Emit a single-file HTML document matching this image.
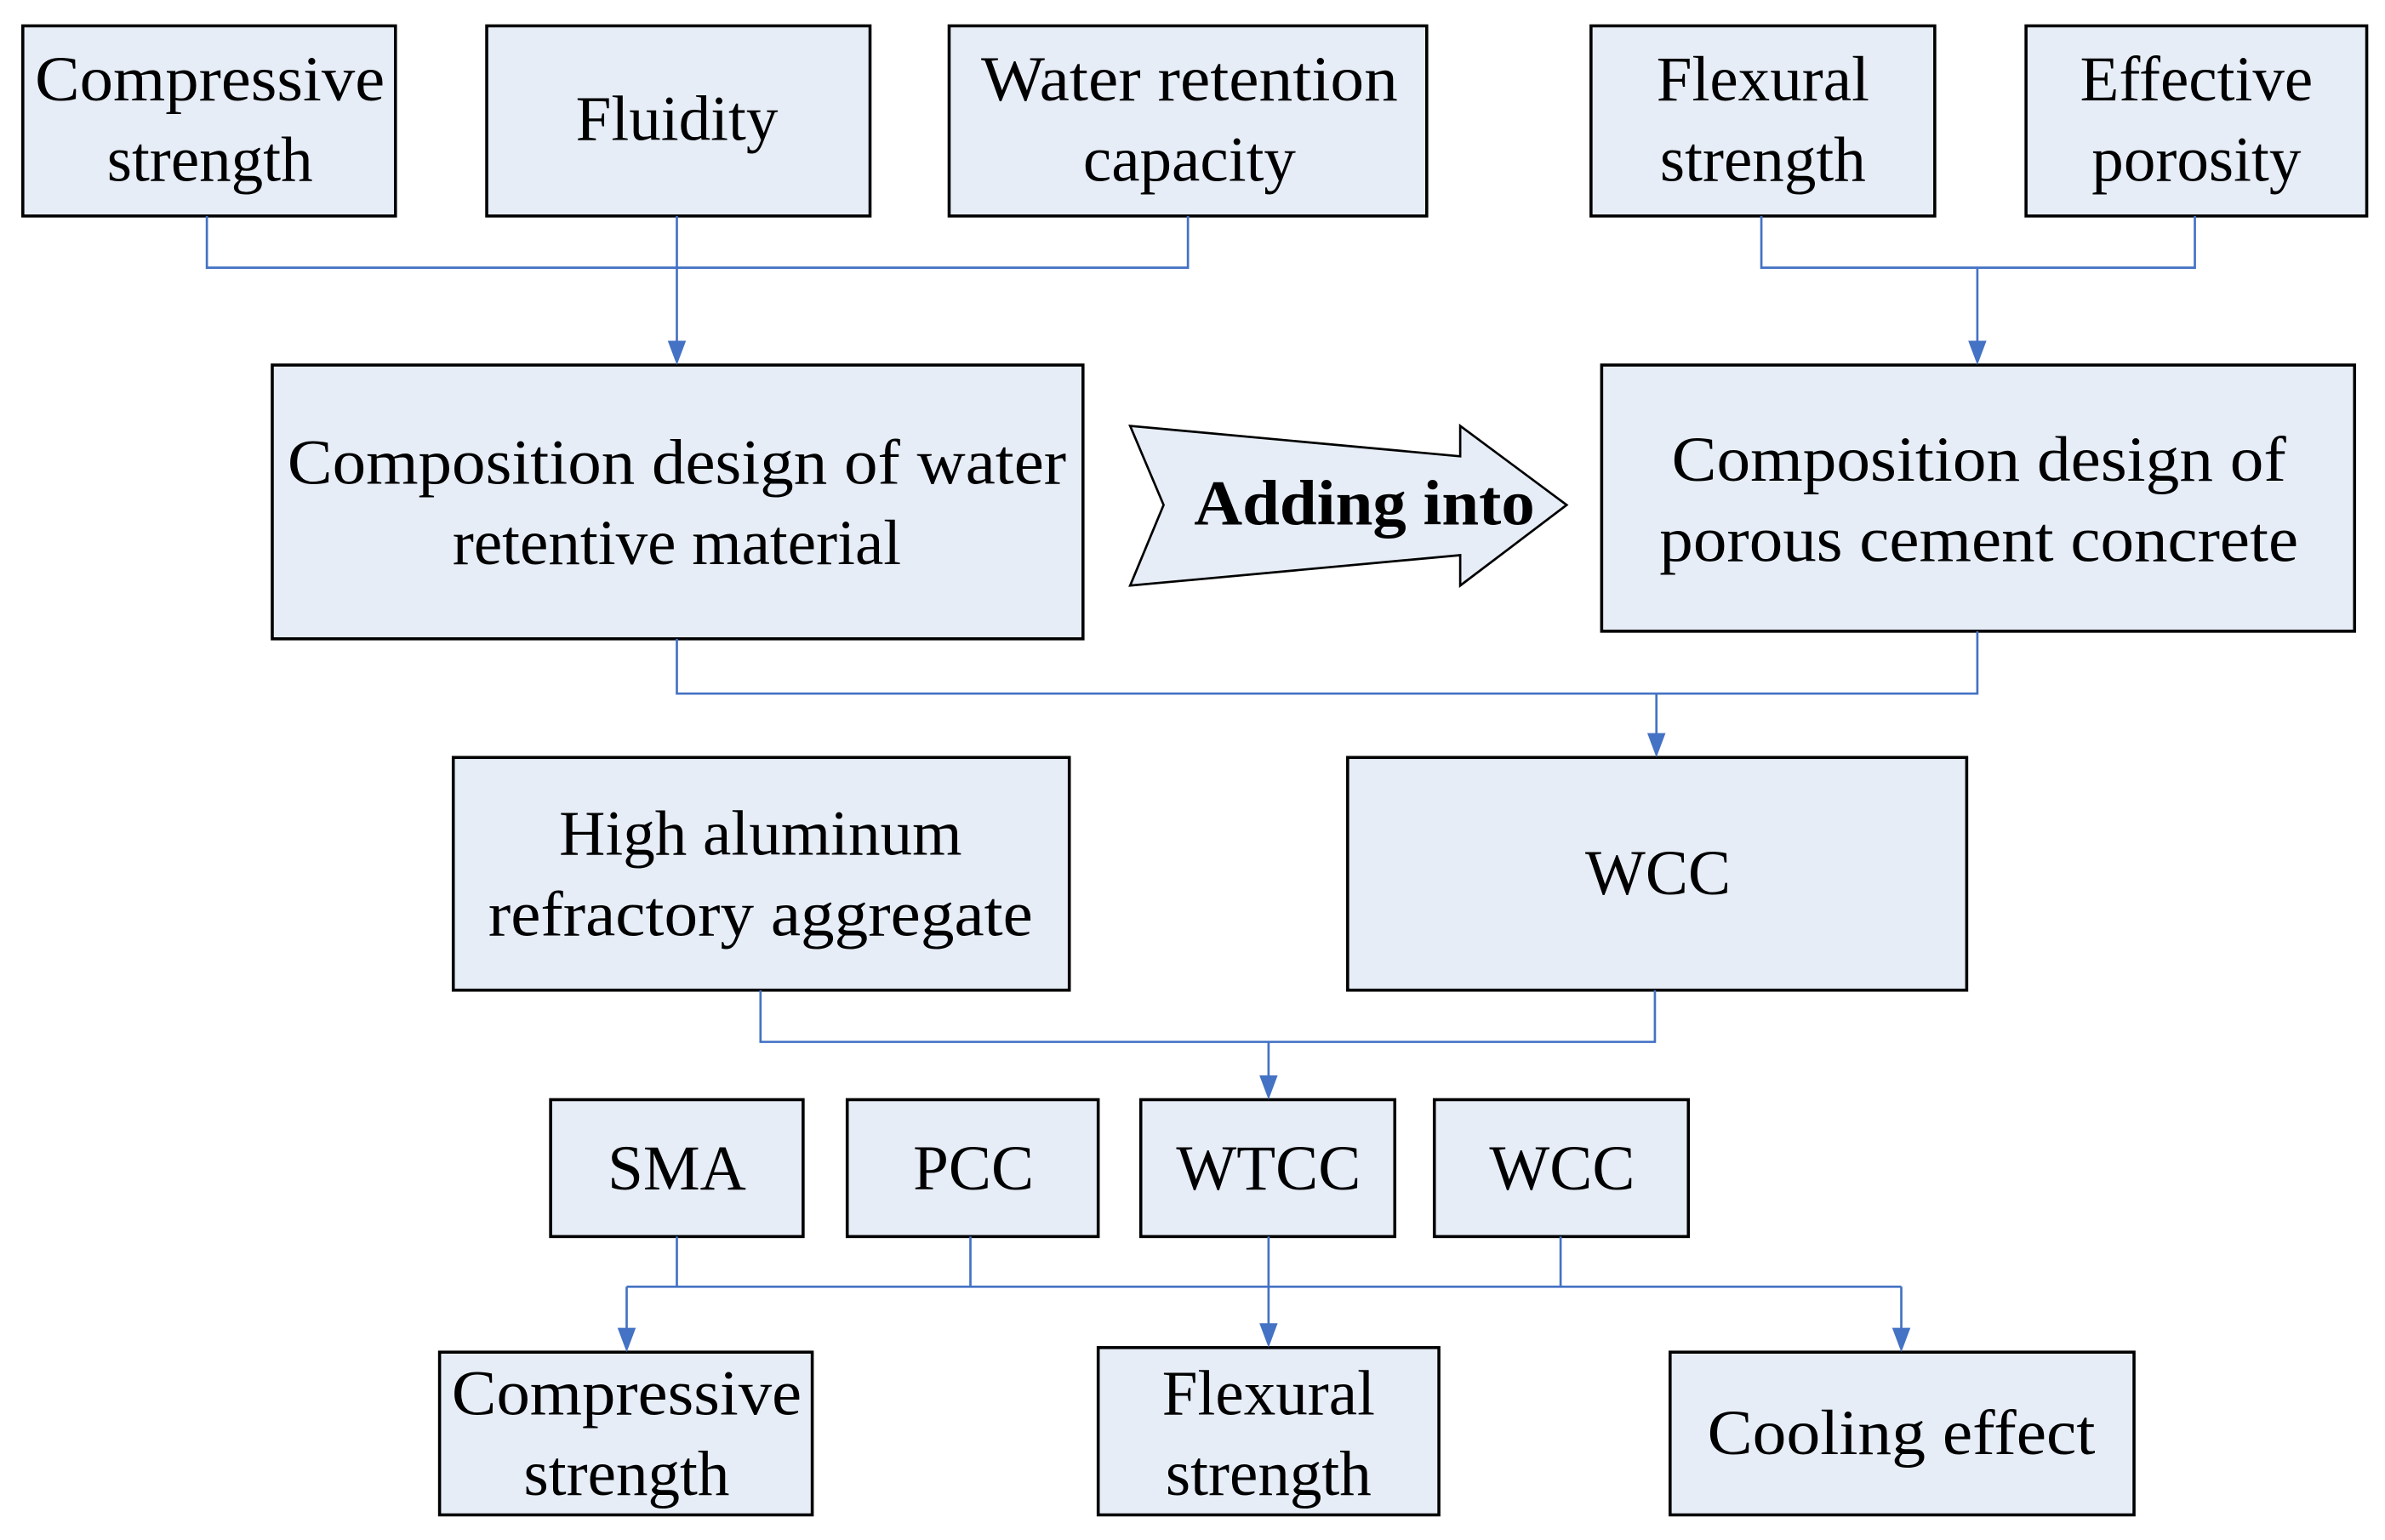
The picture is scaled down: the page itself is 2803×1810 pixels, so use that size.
<!DOCTYPE html>
<html><head><meta charset="utf-8"><style>html,body{margin:0;padding:0;background:#fff}svg{display:block}</style></head>
<body>
<svg width="2803" height="1810" viewBox="0 0 1568 1012.5" xmlns="http://www.w3.org/2000/svg" font-family="Liberation Serif, serif" font-size="42">
<g fill="#E6EDF7" stroke="#000" stroke-width="2">
<rect x="15" y="17" width="245" height="125"/>
<rect x="320" y="17" width="252" height="125"/>
<rect x="624" y="17" width="314" height="125"/>
<rect x="1046" y="17" width="226" height="125"/>
<rect x="1332" y="17" width="224" height="125"/>
<rect x="179" y="240" width="533" height="180"/>
<rect x="1053" y="240" width="495" height="175"/>
<rect x="298" y="498" width="405" height="153"/>
<rect x="886" y="498" width="407" height="153"/>
<rect x="362" y="723" width="166" height="90"/>
<rect x="557" y="723" width="165" height="90"/>
<rect x="750" y="723" width="167" height="90"/>
<rect x="943" y="723" width="167" height="90"/>
<rect x="289" y="889" width="245" height="107"/>
<rect x="722" y="886" width="224" height="110"/>
<rect x="1098" y="889" width="305" height="107"/>
<polygon points="743,280 960,300 960,280 1030,332 960,385 960,365 743,385 765,332" stroke-width="1.5"/>
</g>
<g fill="none" stroke="#4472C4" stroke-width="1.5">
<path d="M136,142V176H781V142M445,142V176"/>
<path d="M445,176V226"/>
<path d="M1158,142V176H1443V142"/>
<path d="M1300,176V226"/>
<path d="M445,420V456H1300V415"/>
<path d="M1089,456V484"/>
<path d="M500,651V685H1088V651"/>
<path d="M834,685V709"/>
<path d="M445,813V846M638,813V846M1026,813V846M412,846H1250"/>
<path d="M412,846V875"/>
<path d="M834,813V872"/>
<path d="M1250,846V875"/>
</g>
<g fill="#4472C4">
<polygon points="439,224 451,224 445,240"/>
<polygon points="1294,224 1306,224 1300,240"/>
<polygon points="1083,482 1095,482 1089,498"/>
<polygon points="828,707 840,707 834,723"/>
<polygon points="406,873 418,873 412,889"/>
<polygon points="828,870 840,870 834,886"/>
<polygon points="1244,873 1256,873 1250,889"/>
</g>
<g fill="#000" text-anchor="middle">
<text x="138" y="66" textLength="230" lengthAdjust="spacingAndGlyphs">Compressive</text>
<text x="138" y="119">strength</text>
<text x="445" y="92">Fluidity</text>
<text x="782" y="66" textLength="274" lengthAdjust="spacingAndGlyphs">Water retention</text>
<text x="782" y="119">capacity</text>
<text x="1159" y="66">Flexural</text>
<text x="1159" y="119">strength</text>
<text x="1444" y="66">Effective</text>
<text x="1444" y="119">porosity</text>
<text x="445" y="318" textLength="512" lengthAdjust="spacingAndGlyphs">Composition design of water</text>
<text x="445" y="371">retentive material</text>
<text x="1301" y="316" textLength="404" lengthAdjust="spacingAndGlyphs">Composition design of</text>
<text x="1301" y="369" textLength="420" lengthAdjust="spacingAndGlyphs">porous cement concrete</text>
<text x="897" y="345" font-weight="bold" textLength="224" lengthAdjust="spacingAndGlyphs">Adding into</text>
<text x="500" y="562">High aluminum</text>
<text x="500" y="615" textLength="358" lengthAdjust="spacingAndGlyphs">refractory aggregate</text>
<text x="1090" y="588">WCC</text>
<text x="445" y="782">SMA</text>
<text x="640" y="782">PCC</text>
<text x="834" y="782">WTCC</text>
<text x="1027" y="782">WCC</text>
<text x="412" y="930" textLength="230" lengthAdjust="spacingAndGlyphs">Compressive</text>
<text x="412" y="983">strength</text>
<text x="834" y="930">Flexural</text>
<text x="834" y="983">strength</text>
<text x="1250" y="956" textLength="255" lengthAdjust="spacingAndGlyphs">Cooling effect</text>
</g>
</svg>
</body></html>
